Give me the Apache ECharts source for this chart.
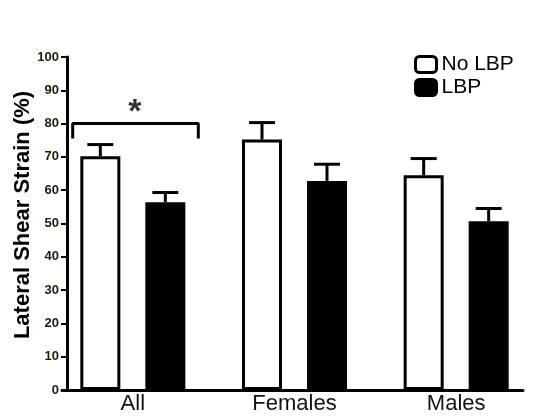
<!DOCTYPE html>
<html>
<head>
<meta charset="utf-8">
<script src="https://cdn.jsdelivr.net/npm/echarts@6/dist/echarts.min.js"></script>
<style>
html,body{margin:0;padding:0;background:#ffffff;}
#chart{width:559px;height:417px;}
</style>
</head>
<body>
<div id="chart"></div>
<script>
// ---- data ----
const categories = ['All', 'Females', 'Males'];
const seriesNames = ['No LBP', 'LBP'];
const noLBP = [70.2, 75.2, 64.5];
const noLBPUpper = [73.7, 80.3, 69.5];
const lbp = [56.4, 62.8, 50.7];
const lbpUpper = [59.3, 67.8, 54.5];
const yMin = 0, yMax = 100, yStep = 10;
const yTitle = 'Lateral Shear Strain (%)';
// significance bracket (group units, value units)
const bracketX = [-0.372, -0.372, 0.405, 0.405];
const bracketY = [75.5, 80, 80, 75.5];
const starPos = [0.013, 85.5];
const starText = '*';

// ---- chart ----
const chart = echarts.init(document.getElementById('chart'), null, {renderer: 'canvas'});
const FONT = 'Liberation Sans, Arial, sans-serif';
const BAR_W = 40, BAR_GAP = 25, BORDER = 3;
const OFF = (BAR_W + BAR_GAP) / 2;

function errRender(offset) {
  return function (params, api) {
    const i = api.value(0);
    const base = api.coord([i, api.value(1)]);
    const top = api.coord([i, api.value(2)]);
    const x = base[0] + offset;
    const half = 13;
    const st = {stroke: '#000', lineWidth: 3};
    return {
      type: 'group',
      children: [
        {type: 'line', shape: {x1: x, y1: base[1], x2: x, y2: top[1]}, style: st},
        {type: 'line', shape: {x1: x - half, y1: top[1], x2: x + half, y2: top[1]}, style: st}
      ]
    };
  };
}

const option = {
  backgroundColor: '#ffffff',
  animation: false,
  grid: [
    {left: 52, right: 22, top: 57, bottom: 27},
    {left: 52, right: 22, top: 57, bottom: 27},
    {left: 62, right: 36, top: 57, bottom: 27}
  ],
  legend: {
    orient: 'vertical',
    left: 409,
    top: 49,
    itemWidth: 21,
    itemHeight: 16,
    itemGap: 2,
    textStyle: {fontFamily: FONT, fontSize: 21, color: '#000', lineHeight: 21},
    data: [
      {name: seriesNames[0], icon: 'roundRect', itemStyle: {color: '#fff', borderColor: '#000', borderWidth: 3}},
      {name: seriesNames[1], icon: 'roundRect', itemStyle: {color: '#000', borderColor: '#000', borderWidth: 3}}
    ]
  },
  xAxis: [
    {
      gridIndex: 0, type: 'category', data: categories,
      axisLine: {show: false}, axisTick: {show: false},
      axisLabel: {fontFamily: FONT, fontSize: 22, color: '#111', margin: 3}
    },
    {
      gridIndex: 1, type: 'value', min: -0.5, max: 2.5, show: false
    },
    {
      gridIndex: 2, type: 'value', min: 0, max: 1,
      axisLine: {show: true, lineStyle: {color: '#000', width: 3}},
      axisTick: {show: false}, axisLabel: {show: false}, splitLine: {show: false}
    }
  ],
  yAxis: [
    {
      gridIndex: 0, type: 'value', min: yMin, max: yMax, interval: yStep,
      offset: -15,
      axisLine: {show: true, lineStyle: {color: '#000', width: 3}},
      axisTick: {show: true, length: 6, lineStyle: {color: '#000', width: 2}},
      axisLabel: {fontFamily: FONT, fontSize: 13, fontWeight: 'bold', color: '#221c05', margin: 8},
      splitLine: {show: false}
    },
    {gridIndex: 1, type: 'value', min: yMin, max: yMax, show: false},
    {gridIndex: 2, type: 'value', min: yMin, max: yMax, show: false}
  ],
  graphic: [
    {
      type: 'text', x: 23, y: 215, rotation: Math.PI / 2,
      style: {text: yTitle, fontFamily: FONT, fontSize: 22, fontWeight: 'bold', fill: '#000',
              textAlign: 'center', textVerticalAlign: 'middle'}
    }
  ],
  series: [
    {
      name: seriesNames[0], type: 'bar', xAxisIndex: 0, yAxisIndex: 0,
      data: noLBP, barWidth: BAR_W, barGap: (BAR_GAP / BAR_W * 100) + '%',
      itemStyle: {color: '#fff', borderColor: '#000', borderWidth: BORDER}
    },
    {
      name: seriesNames[1], type: 'bar', xAxisIndex: 0, yAxisIndex: 0,
      data: lbp, barWidth: BAR_W, barGap: (BAR_GAP / BAR_W * 100) + '%',
      itemStyle: {color: '#000', borderColor: '#000', borderWidth: BORDER}
    },
    {
      type: 'custom', xAxisIndex: 0, yAxisIndex: 0, z: 5,
      renderItem: errRender(-OFF),
      encode: {x: 0, y: [1, 2]},
      data: categories.map((c, i) => [i, noLBP[i], noLBPUpper[i]])
    },
    {
      type: 'custom', xAxisIndex: 0, yAxisIndex: 0, z: 5,
      renderItem: errRender(OFF),
      encode: {x: 0, y: [1, 2]},
      data: categories.map((c, i) => [i, lbp[i], lbpUpper[i]])
    },
    {
      type: 'line', xAxisIndex: 1, yAxisIndex: 1, symbol: 'none',
      lineStyle: {color: '#000', width: 3}, silent: true,
      data: bracketX.map((x, i) => [x, bracketY[i]])
    },
    {
      type: 'scatter', xAxisIndex: 1, yAxisIndex: 1, symbolSize: 1,
      itemStyle: {color: 'rgba(0,0,0,0)'}, silent: true,
      label: {show: true, position: 'inside', formatter: starText,
              fontFamily: FONT, fontSize: 34, fontWeight: 'bold', color: '#000', offset: [0, 7]},
      data: [starPos]
    }
  ]
};
chart.setOption(option);
</script>
</body>
</html>
